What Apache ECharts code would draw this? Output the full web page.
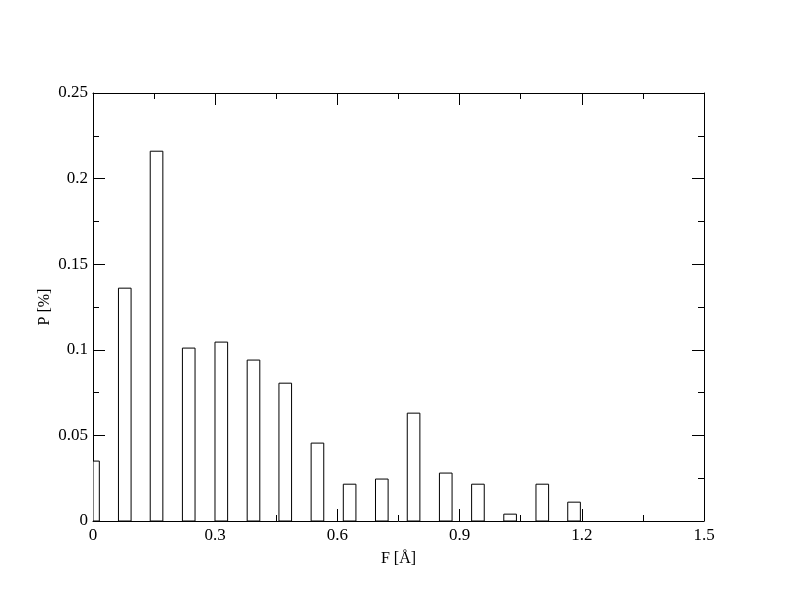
<!DOCTYPE html>
<html><head><meta charset="utf-8">
<script src="https://cdn.jsdelivr.net/npm/echarts@6/dist/echarts.min.js"></script>
<style>html,body{margin:0;padding:0;background:#fff}#c{width:792px;height:612px}</style>
</head><body><div id="c"></div>
<script>
const binCenters = [0, 0.078, 0.156, 0.235, 0.315, 0.394, 0.472, 0.551, 0.630, 0.709, 0.787, 0.866, 0.945, 1.024, 1.103, 1.181];
const probabilities = [0.035, 0.136, 0.216, 0.101, 0.1045, 0.094, 0.0805, 0.0455, 0.0215, 0.0245, 0.063, 0.028, 0.0215, 0.004, 0.0215, 0.011];
const binWidth = 0.031;
const xName = 'F [Å]';
const yName = 'P [%]';

const font = 'Liberation Serif';
const chart = echarts.init(document.getElementById('c'), null, {renderer: 'canvas'});
const axisCommon = () => ({
  axisLine: {show: true, onZero: false, lineStyle: {color: '#000', width: 1}},
  axisTick: {show: true, inside: true, length: 12, lineStyle: {color: '#000', width: 1}},
  minorTick: {show: true, splitNumber: 2, length: 6, lineStyle: {color: '#000', width: 1}},
  splitLine: {show: false}
});
chart.setOption({
  animation: false,
  backgroundColor: '#fff',
  grid: {left: 93, right: 88, top: 93, bottom: 91},
  xAxis: [
    Object.assign(axisCommon(), {
      type: 'value', min: 0, max: 1.5, interval: 0.3, position: 'bottom',
      name: xName, nameLocation: 'middle', nameGap: 30, nameMoveOverlap: false,
      nameTextStyle: {fontFamily: font, fontSize: 16, color: '#000'},
      axisLabel: {fontFamily: font, fontSize: 17, color: '#000', margin: 6,
        formatter: v => (Math.round(v * 10) / 10).toString()}
    }),
    Object.assign(axisCommon(), {
      type: 'value', min: 0, max: 1.5, interval: 0.3, position: 'top',
      axisLabel: {show: false}
    })
  ],
  yAxis: [
    Object.assign(axisCommon(), {
      type: 'value', min: 0, max: 0.25, interval: 0.05, position: 'left',
      name: yName, nameLocation: 'middle', nameGap: 40, nameRotate: 90, nameMoveOverlap: false,
      nameTextStyle: {fontFamily: font, fontSize: 16, color: '#000'},
      axisLabel: {fontFamily: font, fontSize: 17, color: '#000', margin: 5,
        formatter: v => (Math.round(v * 100) / 100).toString()}
    }),
    Object.assign(axisCommon(), {
      type: 'value', min: 0, max: 0.25, interval: 0.05, position: 'right',
      axisLabel: {show: false}
    })
  ],
  series: [{
    type: 'custom',
    xAxisIndex: 0, yAxisIndex: 0,
    clip: true,
    data: binCenters.map((x, i) => [x, probabilities[i]]),
    renderItem: (params, api) => {
      const x = api.value(0), y = api.value(1);
      const p0 = api.coord([x - binWidth / 2, y]);
      const p1 = api.coord([x + binWidth / 2, 0]);
      const rect = {x: p0[0], y: p0[1], width: p1[0] - p0[0], height: p1[1] - p0[1]};
      const cs = params.coordSys;
      const clipped = echarts.graphic.clipRectByRect(rect, {x: cs.x, y: cs.y, width: cs.width, height: cs.height});
      if (!clipped) return null;
      return {type: 'rect', shape: clipped, style: {fill: '#fff', stroke: '#000', lineWidth: 1}};
    }
  }]
});
</script></body></html>
